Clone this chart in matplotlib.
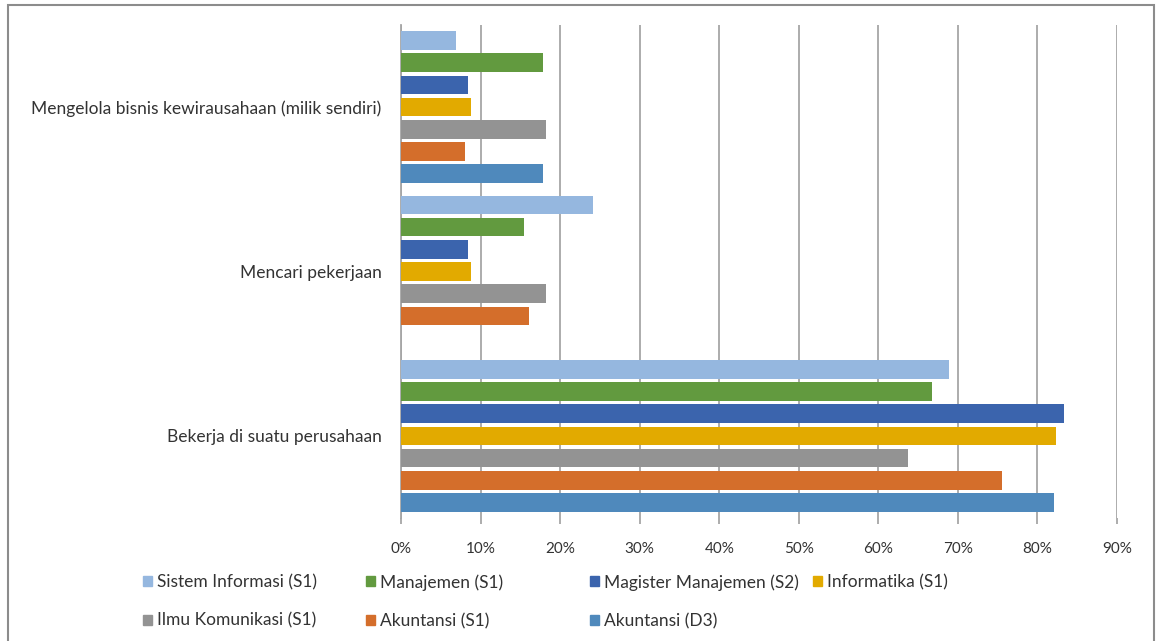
import numpy as np
import matplotlib
matplotlib.use("Agg")
import matplotlib.pyplot as plt
from matplotlib.patches import Rectangle, Patch
from matplotlib.ticker import PercentFormatter

# categories, bottom to top
categories = ["Bekerja di suatu perusahaan", "Mencari pekerjaan",
              "Mengelola bisnis kewirausahaan (milik sendiri)"]

series_names = ["Sistem Informasi (S1)", "Manajemen (S1)", "Magister Manajemen (S2)",
                "Informatika (S1)", "Ilmu Komunikasi (S1)", "Akuntansi (S1)", "Akuntansi (D3)"]
series_colors = ["#95B7DF", "#629A3F", "#3B64AD", "#E2AA00", "#939393", "#D46E2B", "#4F89BC"]

# values (%), order: Bekerja, Mencari, Mengelola
sistem_informasi = [68.9, 24.1, 6.9]
manajemen = [66.8, 15.4, 17.9]
magister_manajemen = [83.4, 8.4, 8.4]
informatika = [82.3, 8.8, 8.8]
ilmu_komunikasi = [63.7, 18.2, 18.2]
akuntansi_s1 = [75.6, 16.1, 8.1]
akuntansi_d3 = [82.1, 0.0, 17.8]

values = [sistem_informasi, manajemen, magister_manajemen, informatika,
          ilmu_komunikasi, akuntansi_s1, akuntansi_d3]

plt.rcParams['font.family'] = ['Lato', 'DejaVu Sans']
txt = "#333333"
grid_c = "#A6A6A6"

fig = plt.figure(figsize=(11.56, 6.41), dpi=100)
W, H = 1156, 641
ax = fig.add_axes([401 / W, 1 - 518 / H, (1117 - 401) / W, (518 - 25) / H])

y = np.arange(len(categories))
slot = 0.945 / len(series_names)
for i, (name, vals, col) in enumerate(zip(series_names, values, series_colors)):
    off = (3 - i) * slot
    ax.barh(y + off, vals, height=slot * 0.84, color=col, linewidth=0,
            label=name, zorder=3)

ax.set_xlim(0, 90)
ax.set_ylim(-0.5, 2.5)
ax.set_xticks(np.arange(0, 91, 10))
ax.xaxis.set_major_formatter(PercentFormatter(decimals=0))
ax.set_yticks(y)
ax.set_yticklabels(categories, fontsize=12.5)
ax.grid(axis="x", color=grid_c, linewidth=1.3, zorder=0)
for s in ["top", "bottom", "right"]:
    ax.spines[s].set_visible(False)
ax.spines["left"].set_color(grid_c)
ax.spines["left"].set_linewidth(1.3)
ax.tick_params(axis="x", length=4, width=1.3, color=grid_c, labelsize=11,
               labelcolor=txt, pad=13)
ax.tick_params(axis="y", length=0, labelcolor=txt, pad=14)

# legend in four fixed-width columns
handles = [Patch(color=c) for c in series_colors]
columns = [[0, 4], [1, 5], [2, 6], [3]]
col_x = [143, 366, 590, 813]
for cx, idx in zip(col_x, columns):
    fig.legend([handles[k] for k in idx], [series_names[k] for k in idx],
               loc="upper left", bbox_to_anchor=(cx / W, 1 - 574 / H),
               frameon=False, fontsize=12.5, labelcolor=txt, handlelength=0.5,
               handleheight=0.5, handletextpad=0.3, labelspacing=1.3,
               borderpad=0, borderaxespad=0)

# outer chart frame
fig.patches.append(Rectangle((8 / W, -0.02), (1154 - 8) / W, 1.02 - 5 / H,
                             transform=fig.transFigure, fill=False,
                             edgecolor="#8C8C8C", linewidth=1.5))

fig.savefig("out.png", dpi=100)
